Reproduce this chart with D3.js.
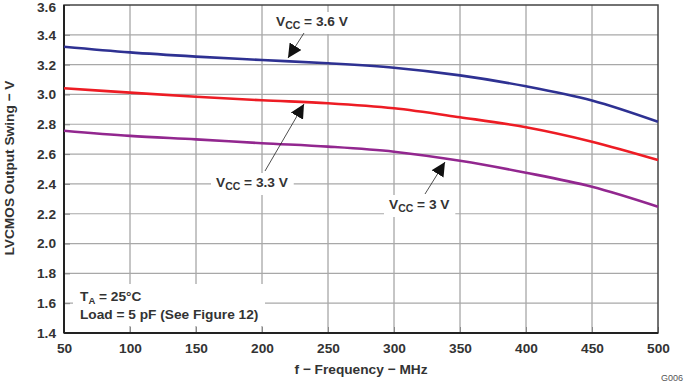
<!DOCTYPE html>
<html><head><meta charset="utf-8">
<script src="https://cdn.jsdelivr.net/npm/d3@7"></script>
<style>body{margin:0;background:#fff}svg{display:block;font-family:"Liberation Sans",Arial,sans-serif}</style>
</head><body><svg id="c" width="685" height="384"></svg>
<script>
const freq = [50,100,150,200,250,300,350,400,450,500];
const vcc36 = [3.32,3.282,3.254,3.231,3.209,3.179,3.128,3.055,2.960,2.817];
const vcc33 = [3.042,3.012,2.985,2.961,2.941,2.907,2.847,2.78,2.683,2.56];
const vcc30 = [2.757,2.722,2.699,2.673,2.650,2.616,2.555,2.475,2.381,2.247];
const xTicks = [50,100,150,200,250,300,350,400,450,500];
const yTicks = [1.4,1.6,1.8,2.0,2.2,2.4,2.6,2.8,3.0,3.2,3.4,3.6];
const seriesColors = ["#2e3192","#ed1c24","#92278f"];

const FS = 13.7;
const svg = d3.select("#c");
const L=64,R=658,T=5,B=333;
const x = d3.scaleLinear().domain([50,500]).range([L,R]);
const y = d3.scaleLinear().domain([1.4,3.6]).range([B,T]);

// grid
const g = svg.append("g");
g.selectAll(".vg").data(xTicks.slice(1,-1)).join("line")
 .attr("x1",d=>x(d)).attr("x2",d=>x(d)).attr("y1",T).attr("y2",B)
 .attr("stroke","#8c8c8c").attr("stroke-width",1);
g.selectAll(".hg").data(yTicks.slice(1,-1)).join("line")
 .attr("x1",L).attr("x2",R).attr("y1",d=>y(d)).attr("y2",d=>y(d))
 .attr("stroke","#a8a8a8").attr("stroke-width",1.2);

// annotation box
svg.append("rect").attr("x",73).attr("y",284).attr("width",192).attr("height",42).attr("fill","#fff");
const ann = svg.append("text").attr("x",80).attr("y",301).attr("font-size",FS).attr("font-weight","bold").attr("fill","#333");
ann.append("tspan").text("T");
ann.append("tspan").attr("font-size",9.5).attr("dy",3).text("A");
ann.append("tspan").attr("dy",-3).text(" = 25°C");
svg.append("text").attr("x",80).attr("y",319).attr("font-size",FS).attr("font-weight","bold").attr("fill","#333")
 .text("Load = 5 pF (See Figure 12)");

// ticks inward
svg.append("g").attr("transform",`translate(0,${B})`)
 .call(d3.axisBottom(x).tickValues(xTicks).tickSize(-6).tickFormat(d3.format("d")).tickPadding(10))
 .call(a=>{a.select(".domain").remove();a.selectAll("line").attr("stroke","#888");
   a.selectAll("text").attr("font-size",FS).attr("font-weight","bold").attr("fill","#333").attr("font-family","Liberation Sans, Arial");});
svg.append("g").attr("transform",`translate(${L},0)`)
 .call(d3.axisLeft(y).tickValues(yTicks).tickSize(-6).tickFormat(d3.format(".1f")).tickPadding(8))
 .call(a=>{a.select(".domain").remove();a.selectAll("line").attr("stroke","#888");
   a.selectAll("text").attr("font-size",FS).attr("font-weight","bold").attr("fill","#333").attr("font-family","Liberation Sans, Arial")
    .attr("dy",(d)=> d===3.6 ? "0.45em" : "0.32em");});

// frame
svg.append("rect").attr("x",L).attr("y",T).attr("width",R-L).attr("height",B-T)
 .attr("fill","none").attr("stroke","#444").attr("stroke-width",1.5);
svg.append("line").attr("x1",L).attr("x2",L).attr("y1",T).attr("y2",B).attr("stroke","#222").attr("stroke-width",2);
svg.append("line").attr("x1",L).attr("x2",R).attr("y1",B).attr("y2",B).attr("stroke","#222").attr("stroke-width",2);

// series
const line = d3.line().x((d,i)=>x(freq[i])).y(d=>y(d)).curve(d3.curveCatmullRom.alpha(0.5));
[vcc36,vcc33,vcc30].forEach((s,i)=>{
  svg.append("path").attr("d",line(s)).attr("fill","none").attr("stroke",seriesColors[i]).attr("stroke-width",2.6);
});

// labels with arrows
svg.append("defs").append("marker").attr("id","ah").attr("viewBox","0 0 10 10").attr("refX",10).attr("refY",5)
 .attr("markerWidth",14).attr("markerHeight",14).attr("markerUnits","userSpaceOnUse").attr("orient","auto")
 .append("path").attr("d","M0,0 L10,5 L0,10 z").attr("fill","#111");
function label(tx,ty,val,from,to){
  const t = svg.append("text").attr("x",tx).attr("y",ty).attr("font-size",FS).attr("font-weight","bold").attr("fill","#333");
  t.append("tspan").text("V");
  t.append("tspan").attr("font-size",10.5).attr("dy",3).text("CC");
  t.append("tspan").attr("dy",-3).text(" = "+val);
  const bb = t.node().getBBox();
  svg.insert("rect","text").attr("x",bb.x-5).attr("y",bb.y-2).attr("width",bb.width+10).attr("height",bb.height+5).attr("fill","#fff");
  svg.append("line").attr("x1",from[0]).attr("y1",from[1]).attr("x2",to[0]).attr("y2",to[1])
   .attr("stroke","#222").attr("stroke-width",0.8).attr("marker-end","url(#ah)");
}
label(276,26,"3.6 V",[304,33],[288,58]);
label(216,187,"3.3 V",[265,171],[304,104]);
label(389,209,"3 V",[425,194],[445,162]);

// axis titles
svg.append("text").attr("x",361).attr("y",374).attr("text-anchor","middle").attr("font-size",FS).attr("font-weight","bold").attr("fill","#333")
 .text("f − Frequency − MHz");
svg.append("text").attr("transform","translate(14,168) rotate(-90)").attr("text-anchor","middle").attr("font-size",FS).attr("font-weight","bold").attr("fill","#333")
 .text("LVCMOS Output Swing − V");
svg.append("text").attr("x",683).attr("y",381).attr("text-anchor","end").attr("font-size",9).attr("fill","#555").text("G006");
</script></body></html>
